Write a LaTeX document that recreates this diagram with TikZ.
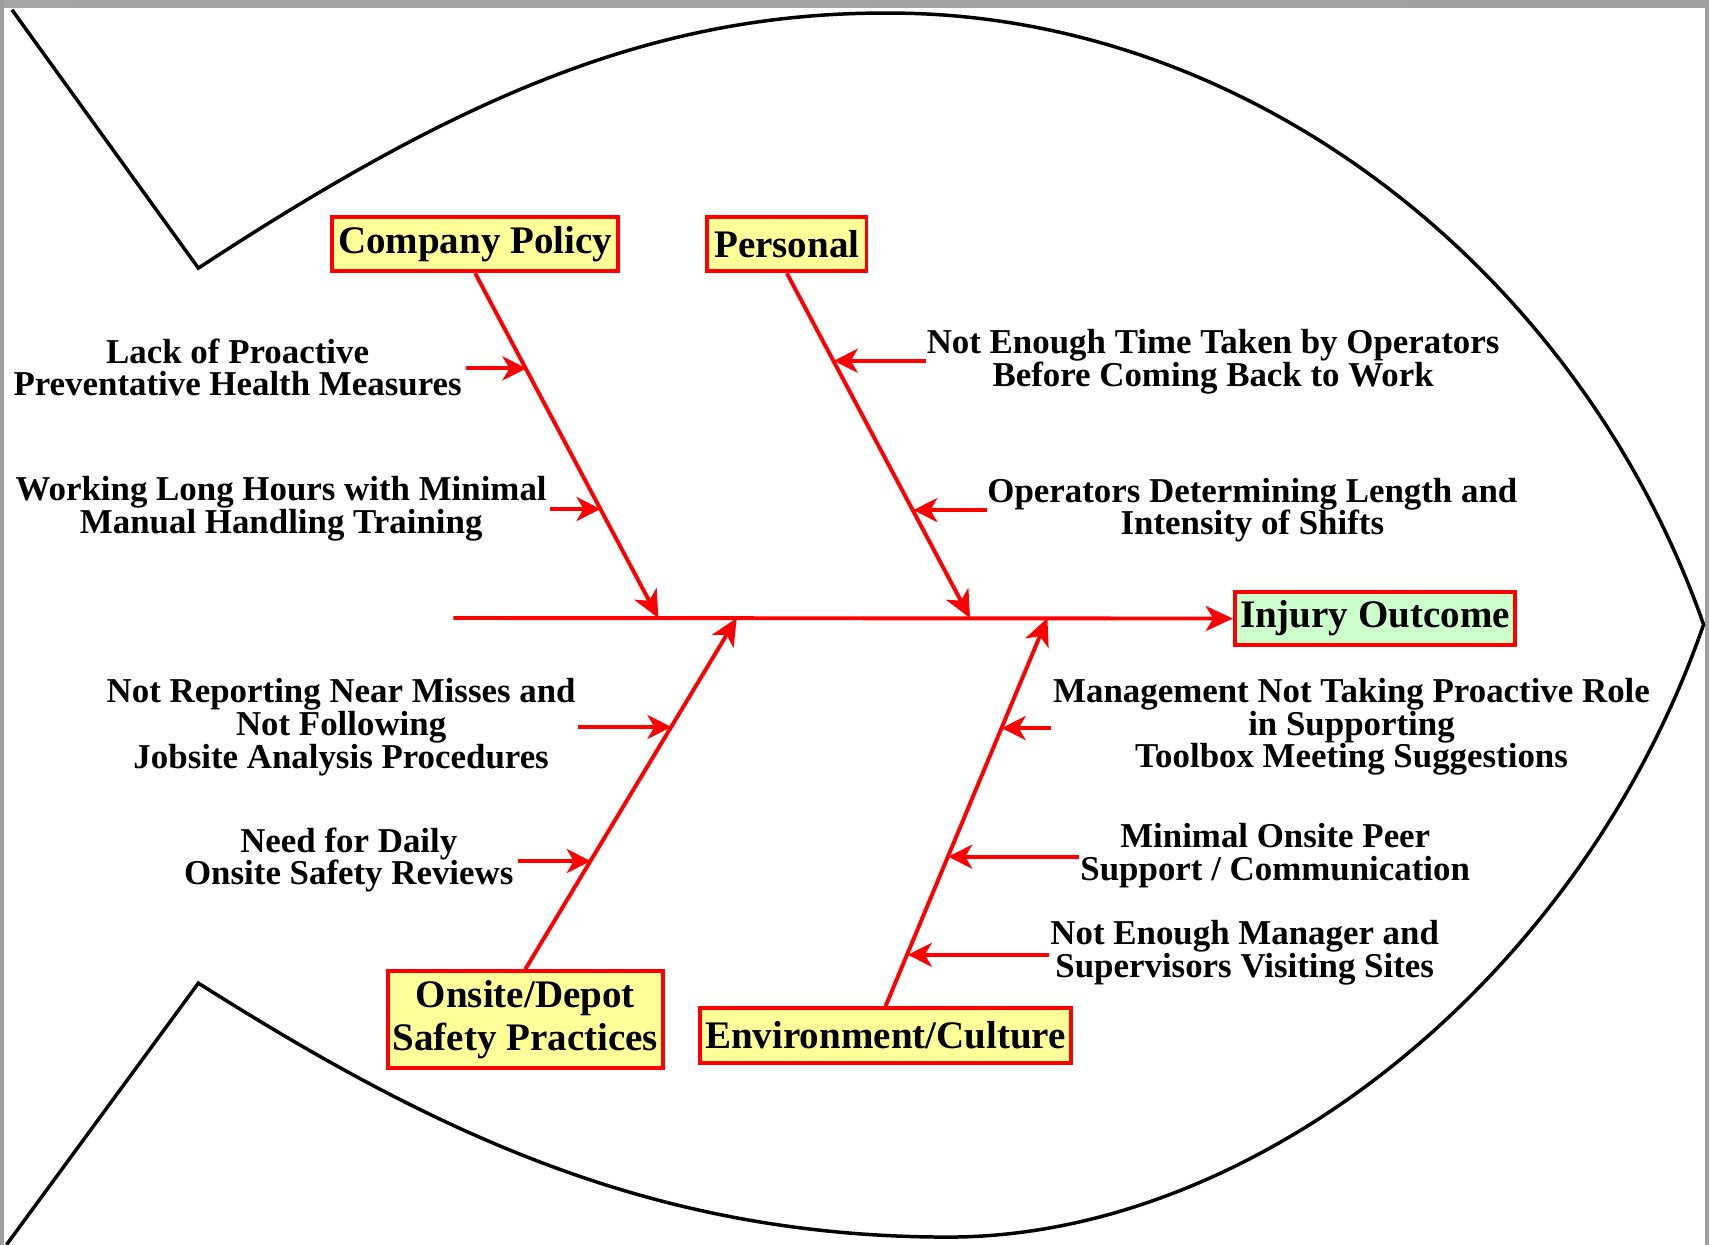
\documentclass[tikz,border=0pt]{standalone}
\usepackage{fontspec}
\setmainfont{Liberation Serif}
\usetikzlibrary{arrows.meta,calc}
\definecolor{boxyellow}{HTML}{FFFF99}
\definecolor{boxgreen}{HTML}{CCFFCC}
\definecolor{bonered}{HTML}{FF0000}
\begin{document}
\begin{tikzpicture}[x=0.5pt,y=-0.5pt,
  fishline/.style={draw=black,line width=1.6pt,line join=miter},
  bone/.style={draw=bonered,line width=1.8pt},
  bonearrow/.style={bone,-{Stealth[length=12.5pt,width=11.5pt,inset=3.5pt]}},
  subarrow/.style={bone,-{Stealth[length=11pt,width=11pt,inset=3.2pt]}},
  catbox/.style={draw=bonered,line width=1.8pt,fill=boxyellow,inner sep=0pt,
    align=center,font=\fontsize{17.9pt}{20pt}\selectfont\bfseries},
  outbox/.style={catbox,fill=boxgreen},
  cause/.style={align=center,inner sep=0pt,font=\fontsize{16pt}{15pt}\selectfont\bfseries}]
\useasboundingbox (0,0) rectangle (1568,1142);
% screenshot border
\shade[left color=gray!70,middle color=gray!45,right color=gray!75] (0,0) rectangle (1568,7);
\fill[gray!75] (0,0) rectangle (4,1142);
\fill[gray!75] (1564,0) rectangle (1568,1142);
% fish outline
\draw[fishline] (11,9) -- (182,246) .. controls (420,90) and (600,10) .. (820,12)
  .. controls (1150,14) and (1450,250) .. (1563,573)
  .. controls (1450,900) and (1150,1135) .. (870,1135)
  .. controls (600,1135) and (400,1040) .. (182,902) -- (6,1142);
% boxes
\node[catbox,minimum width=131pt,minimum height=25pt] (cp) at (436,224) {Company Policy};
\node[catbox,minimum width=73pt,minimum height=25pt] (pe) at (722,224) {Personal};
\node[catbox,minimum width=126pt,minimum height=44.5pt] (os) at (482,935.5) {Onsite/Depot\\Safety Practices};
\node[catbox,minimum width=170.5pt,minimum height=25pt] (ec) at (812.5,950) {Environment/Culture};
\node[outbox,minimum width=128.5pt,minimum height=24.5pt] (io) at (1261.5,567.5) {Injury Outcome};
% spine
\coordinate (sp0) at (416,567);
\coordinate (jcp) at (604,567);
\coordinate (jpe) at (890,567);
\coordinate (jos) at (676,567);
\coordinate (jec) at (961,567);
\draw[bonearrow] (sp0) -- (io.west);
% bones
\draw[bonearrow] (cp.south) -- (jcp);
\draw[bonearrow] (pe.south) -- (jpe);
\draw[bonearrow] (os.north) -- (jos);
\draw[bonearrow] (ec.north) -- (jec);
% cause labels
\node[cause] (c1) at (218,337) {Lack of Proactive\\Preventative Health Measures};
\node[cause] (c2) at (258,467) {Working Long Hours with Minimal\\Manual Handling Training};
\node[cause] (c3) at (1113,332) {Not Enough Time Taken by Operators\\Before Coming Back to Work};
\node[cause] (c4) at (1149,468) {Operators Determining Length and\\Intensity of Shifts};
\node[cause] (c5) at (313,667) {Not Reporting Near Misses and\\Not Following\\Jobsite Analysis Procedures};
\node[cause] (c6) at (320,789) {Need for Daily\\Onsite Safety Reviews};
\node[cause] (c7) at (1240,667) {Management Not Taking Proactive Role\\in Supporting\\Toolbox Meeting Suggestions};
\node[cause] (c8) at (1170,785) {Minimal Onsite Peer\\Support / Communication};
\node[cause] (c9) at (1142,874) {Not Enough Manager and\\Supervisors Visiting Sites};
% arrow tails and tips
\coordinate (t1) at (428,338); \coordinate (h1) at (483,338);
\coordinate (t2) at (505,467); \coordinate (h2) at (551,467);
\coordinate (t3) at (850,331); \coordinate (h3) at (765,331);
\coordinate (t4) at (906,468); \coordinate (h4) at (838,468);
\coordinate (t5) at (530,667); \coordinate (h5) at (616,667);
\coordinate (t6) at (475,790); \coordinate (h6) at (542,790);
\coordinate (t7) at (964,668); \coordinate (h7) at (919,668);
\coordinate (t8) at (990,786); \coordinate (h8) at (870,786);
\coordinate (t9) at (962,876); \coordinate (h9) at (833,876);
\foreach \i in {1,...,9} {\draw[subarrow] (t\i) -- (h\i);}
\end{tikzpicture}
\end{document}
